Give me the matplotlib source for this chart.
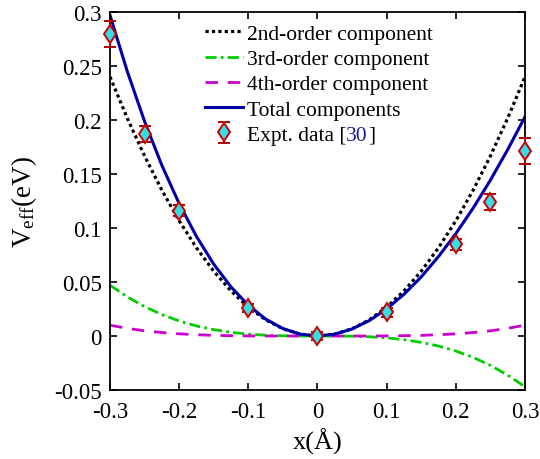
import matplotlib
matplotlib.use('Agg')
import matplotlib.pyplot as plt
from matplotlib.offsetbox import TextArea, HPacker

plt.rcParams['font.family'] = ['Liberation Serif', 'DejaVu Serif']
plt.rcParams['mathtext.fontset'] = 'custom'
plt.rcParams['mathtext.rm'] = 'Liberation Serif'
plt.rcParams['mathtext.it'] = 'Liberation Serif:italic'
plt.rcParams['axes.unicode_minus'] = False

# x grid for the model curves
x_curve = [-0.3, -0.275, -0.25, -0.225, -0.2, -0.175, -0.15, -0.125, -0.1, -0.075, -0.05, -0.025, 0.0,
           0.025, 0.05, 0.075, 0.1, 0.125, 0.15, 0.175, 0.2, 0.225, 0.25, 0.275, 0.3]
v_2nd = [0.240, 0.2017, 0.1667, 0.135, 0.1067, 0.0817, 0.060, 0.0417, 0.0267, 0.015, 0.0067, 0.0017, 0.0,
         0.0017, 0.0067, 0.015, 0.0267, 0.0417, 0.060, 0.0817, 0.1067, 0.135, 0.1667, 0.2017, 0.240]
v_3rd = [0.047, 0.0362, 0.0272, 0.0198, 0.0139, 0.0093, 0.0059, 0.0034, 0.0017, 0.0007, 0.0002, 0.0, 0.0,
         0.0, -0.0002, -0.0007, -0.0017, -0.0034, -0.0059, -0.0093, -0.0139, -0.0198, -0.0272, -0.0362, -0.047]
v_4th = [0.0100, 0.0071, 0.0048, 0.0032, 0.0020, 0.0012, 0.0006, 0.0003, 0.0001, 0.0, 0.0, 0.0, 0.0,
         0.0, 0.0, 0.0, 0.0001, 0.0003, 0.0006, 0.0012, 0.0020, 0.0032, 0.0048, 0.0071, 0.0100]
v_total = [0.297, 0.2450, 0.1987, 0.1580, 0.1226, 0.0922, 0.0665, 0.0454, 0.0285, 0.0157, 0.0069, 0.0017, 0.0,
           0.0017, 0.0065, 0.0143, 0.0251, 0.0386, 0.0547, 0.0736, 0.0948, 0.1184, 0.1443, 0.1726, 0.203]

# experimental points
x_expt = [-0.3, -0.25, -0.2, -0.1, 0.0, 0.1, 0.2, 0.25, 0.3]
v_expt = [0.280, 0.187, 0.116, 0.026, 0.0, 0.022, 0.085, 0.124, 0.171]
v_err = [0.012, 0.0075, 0.005, 0.004, 0.004, 0.004, 0.005, 0.0075, 0.012]

fig = plt.figure(figsize=(5.4, 4.6), dpi=100)
ax = fig.add_axes([0.2037, 0.15, 0.7685, 0.8217])

ax.plot(x_curve, v_2nd, color='black', linestyle=(0, (1, 1.0)), linewidth=2.3, label='2nd-order component')
ax.plot(x_curve, v_3rd, color='#00cc00', linestyle=(0, (4, 1.5, 1, 1.5)), linewidth=2.0, label='3rd-order component')
ax.plot(x_curve, v_4th, color='#cc00cc', linestyle=(0, (4.5, 3.5)), linewidth=2.0, label='4th-order component')
ax.plot(x_curve, v_total, color='#0000aa', linewidth=2.2, label='Total components')
ax.errorbar(x_expt, v_expt, yerr=v_err, fmt='d', markersize=9.5, markerfacecolor='#33dfe6',
            markeredgecolor='#cc0000', markeredgewidth=1.4, ecolor='#b00000', elinewidth=1.4,
            capsize=4, capthick=1.4, label='Expt. data [30]', zorder=5, clip_on=False)

ax.set_xlim(-0.3, 0.3)
ax.set_ylim(-0.05, 0.3)
ax.set_xticks([-0.3, -0.2, -0.1, 0, 0.1, 0.2, 0.3])
ax.set_xticklabels(['-0.3', '-0.2', '-0.1', '0', '0.1', '0.2', '0.3'])
ax.set_yticks([-0.05, 0, 0.05, 0.1, 0.15, 0.2, 0.25, 0.3])
ax.set_yticklabels(['-0.05', '0', '0.05', '0.1', '0.15', '0.2', '0.25', '0.3'])
ax.tick_params(direction='in', top=True, right=True, length=5, width=1.2, labelsize=16.5)
ax.tick_params(axis='x', pad=8)
ax.tick_params(axis='y', pad=6)
for s in ax.spines.values():
    s.set_linewidth(1.3)

ax.set_xlabel('x(Å)', fontsize=19)
ax.set_ylabel(r'V$_{\mathrm{eff}}$(eV)', fontsize=19.5)
ax.xaxis.set_label_coords(0.5, -0.099)
ax.yaxis.set_label_coords(-0.172, 0.5)

leg = ax.legend(loc='upper left', bbox_to_anchor=(0.2, 1.0), frameon=False, fontsize=15.5,
                handlelength=1.75, handletextpad=0.2, labelspacing=0.24, borderaxespad=0.15)

# colour the reference number in the last legend entry
expt_text = leg.get_texts()[-1]
for col in leg._legend_handle_box.get_children():
    for row in col.get_children():
        kids = row.get_children()
        if len(kids) > 1 and getattr(kids[1], '_text', None) is expt_text:
            parts = [TextArea('Expt. data [', textprops=dict(fontsize=15.5, color='black')),
                     TextArea('30', textprops=dict(fontsize=15.5, color='#1a1aa0')),
                     TextArea(']', textprops=dict(fontsize=15.5, color='black'))]
            pack = HPacker(children=parts, pad=0, sep=0, align='baseline')
            pack.set_figure(fig)
            for p in parts:
                p.set_figure(fig)
            kids[1] = pack

fig.savefig('out.png', dpi=100)
